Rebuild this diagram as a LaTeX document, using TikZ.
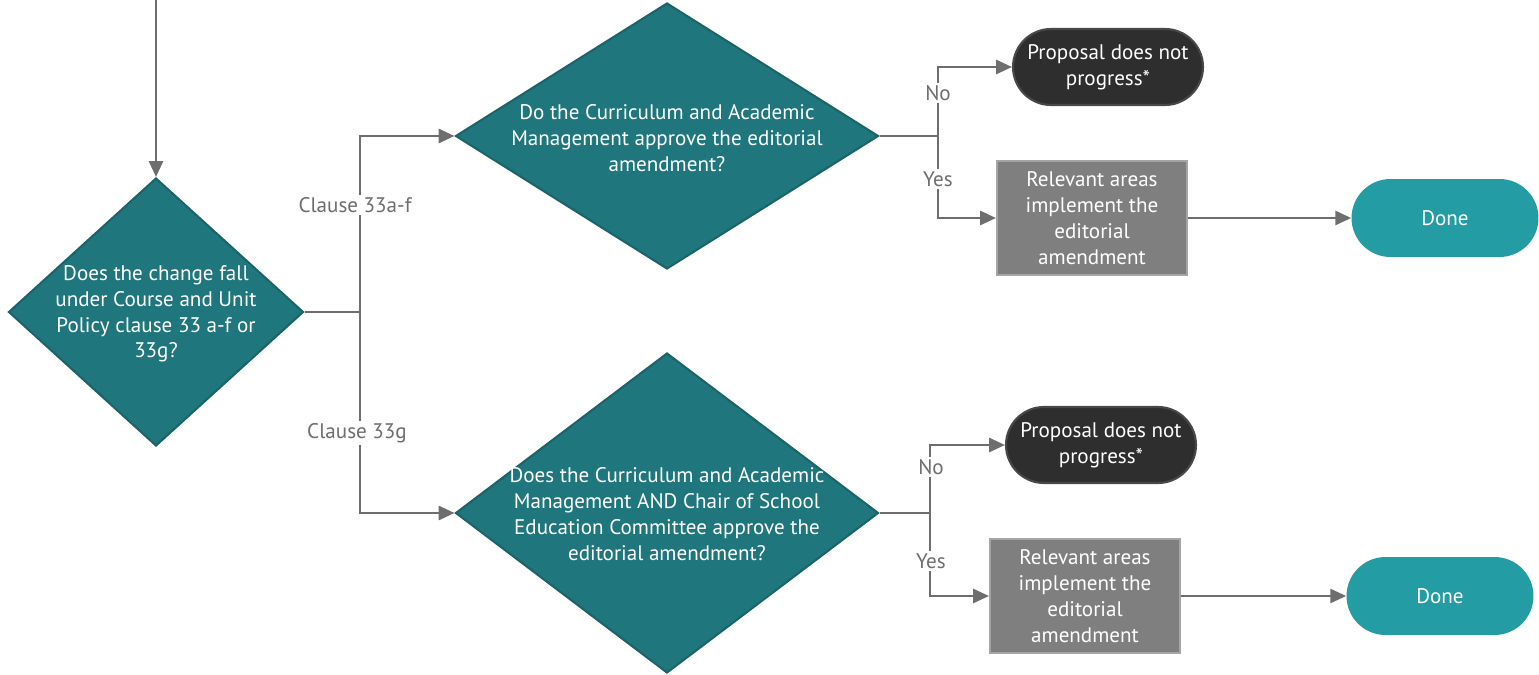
\documentclass[tikz,border=0pt]{standalone}
\usepackage{fontspec}
\setmainfont{PT Sans}
\usetikzlibrary{arrows.meta,shapes.geometric}
\definecolor{teal1}{RGB}{31,119,125}
\definecolor{teal1b}{RGB}{26,100,106}
\definecolor{teal2}{RGB}{36,156,164}
\definecolor{dark1}{RGB}{46,46,46}
\definecolor{dark1b}{RGB}{72,72,72}
\definecolor{gray1}{RGB}{127,127,127}
\definecolor{gray1b}{RGB}{165,165,165}
\definecolor{lncol}{RGB}{110,110,110}
\tikzset{
  x=0.02cm, y=-0.02cm,
  every node/.style={font=\fontsize{12}{14.7}\selectfont},
  dia/.style={shape=diamond, fill=teal1, draw=teal1b, line width=1.2pt, inner sep=0pt},
  diatext/.style={text=white, align=center},
  term/.style={rectangle, fill=dark1, draw=dark1b, line width=1.2pt, rounded corners=0.76cm,
     minimum width=3.8cm, minimum height=1.52cm, text=white, align=center},
  done/.style={rectangle, fill=teal2, rounded corners=0.78cm,
     minimum width=3.74cm, minimum height=1.56cm, text=white, align=center},
  actbox/.style={rectangle, fill=gray1, draw=gray1b, line width=1.2pt,
     minimum width=3.8cm, minimum height=2.28cm, text=white, align=center, inner sep=2pt},
  ln/.style={draw=lncol, line width=1.4pt},
  arr/.style={ln, -{Triangle[length=9pt,width=8pt]}},
  lbl/.style={fill=white, text=lncol, inner sep=1.5pt},
}
\begin{document}
\begin{tikzpicture}
\useasboundingbox (0,0) rectangle (1539,675);
% decision 1
\node[dia, minimum width=5.9cm, minimum height=5.36cm] (d1) at (156,312) {};
\node[diatext] (d1t) at (156,314) {Does the change fall\\under Course and Unit\\Policy clause 33 a-f or\\33g?};
% decision 2
\node[dia, minimum width=8.46cm, minimum height=5.32cm] (d2) at (667,136) {};
\node[diatext] (d2t) at (667,138) {Do the Curriculum and Academic\\Management approve the editorial\\amendment?};
% decision 3
\node[dia, minimum width=8.46cm, minimum height=6.4cm] (d3) at (667,513) {};
\node[diatext] (d3t) at (667,514) {Does the Curriculum and Academic\\Management AND Chair of School\\Education Committee approve the\\editorial amendment?};
% terminals
\node[term] (t1) at (1108,67) {Proposal does not\\progress*};
\node[term] (t2) at (1101,445) {Proposal does not\\progress*};
\node[actbox] (b1) at (1092,218) {Relevant areas\\implement the\\editorial\\amendment};
\node[actbox] (b2) at (1085,596) {Relevant areas\\implement the\\editorial\\amendment};
\node[done] (e1) at (1445,218) {Done};
\node[done] (e2) at (1440,596) {Done};
% junctions
\coordinate (top) at (156,0);
\coordinate (j1) at (360,312);
\coordinate (j2) at (938,136);
\coordinate (j3) at (930,513);
% connectors
\draw[arr] (top) -- (d1.north);
\draw[ln] (d1.east) -- (j1);
\draw[arr] (j1) |- (d2.west);
\draw[arr] (j1) |- (d3.west);
\draw[ln] (d2.east) -- (j2);
\draw[arr] (j2) |- (t1.west);
\draw[arr] (j2) |- (b1.west);
\draw[ln] (d3.east) -- (j3);
\draw[arr] (j3) |- (t2.west);
\draw[arr] (j3) |- (b2.west);
\draw[arr] (b1) -- (e1);
\draw[arr] (b2) -- (e2);
% labels
\node[lbl] (l1) at (355,205) {Clause 33a-f};
\node[lbl] (l2) at (357,433) {Clause 33g};
\node[lbl] (l3) at (938,93) {No};
\node[lbl] (l4) at (938,179) {Yes};
\node[lbl] (l5) at (931,467) {No};
\node[lbl] (l6) at (931,561) {Yes};
\end{tikzpicture}
\end{document}
